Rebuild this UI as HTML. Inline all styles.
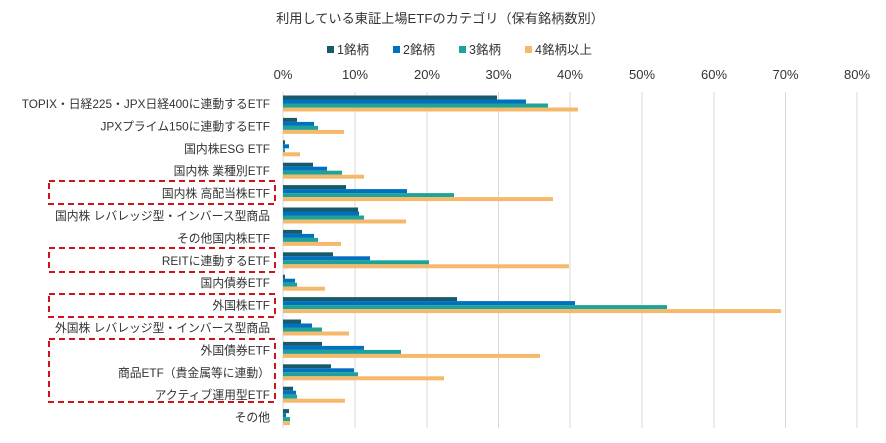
<!DOCTYPE html>
<html><head><meta charset="utf-8"><style>
body{margin:0;background:#fff;}
svg{display:block;font-family:"Liberation Sans","Noto Sans CJK JP",sans-serif;}
</style></head><body>
<svg width="886" height="443" viewBox="0 0 886 443">
<text x="440" y="23" font-size="13.2" text-anchor="middle" fill="#333">利用している東証上場ETFのカテゴリ（保有銘柄数別）</text>
<g font-size="12.5" fill="#333">
<rect x="327" y="46" width="7" height="7" fill="#175a6c"/><text x="337" y="54">1銘柄</text>
<rect x="393" y="46" width="7" height="7" fill="#0070c0"/><text x="403" y="54">2銘柄</text>
<rect x="459" y="46" width="7" height="7" fill="#1ea39a"/><text x="469" y="54">3銘柄</text>
<rect x="525" y="46" width="7" height="7" fill="#f6b86b"/><text x="535" y="54">4銘柄以上</text>
</g>
<g stroke="#d9d9d9" stroke-width="1">
<line x1="283" y1="92" x2="283" y2="428"/><line x1="355" y1="92" x2="355" y2="428"/><line x1="427" y1="92" x2="427" y2="428"/><line x1="498.5" y1="92" x2="498.5" y2="428"/><line x1="570" y1="92" x2="570" y2="428"/><line x1="642" y1="92" x2="642" y2="428"/><line x1="714" y1="92" x2="714" y2="428"/><line x1="785.5" y1="92" x2="785.5" y2="428"/><line x1="857" y1="92" x2="857" y2="428"/>
</g>
<g font-size="13" fill="#333" text-anchor="middle">
<text x="283" y="79">0%</text><text x="355" y="79">10%</text><text x="427" y="79">20%</text><text x="498.5" y="79">30%</text><text x="570" y="79">40%</text><text x="642" y="79">50%</text><text x="714" y="79">60%</text><text x="785.5" y="79">70%</text><text x="857" y="79">80%</text>
</g>
<g id="bars"></g>
<g font-size="11.8" fill="#333" text-anchor="end" id="labels"></g>
<g fill="none" stroke="#d0121b" stroke-width="2" stroke-dasharray="6,4">
<rect x="49" y="181" width="226" height="23"/>
<rect x="49" y="248" width="226" height="24"/>
<rect x="49" y="294" width="226" height="23"/>
<rect x="49" y="339" width="226" height="63"/>
</g>
<script>
var d=[
["TOPIX・日経225・JPX日経400に連動するETF",214,243,265,295],
["JPXプライム150に連動するETF",14,31,35,61],
["国内株ESG ETF",2,6,2,17],
["国内株 業種別ETF",30,44,59,81],
["国内株 高配当株ETF",63,124,171,270],
["国内株 レバレッジ型・インバース型商品",75,76,81,123],
["その他国内株ETF",19,31,35,58],
["REITに連動するETF",50,87,146,286],
["国内債券ETF",2,12,14,42],
["外国株ETF",174,292,384,498],
["外国株 レバレッジ型・インバース型商品",18,29,39,66],
["外国債券ETF",39,81,118,257],
["商品ETF（貴金属等に連動）",48,71,75,161],
["アクティブ運用型ETF",10,13,14,62],
["その他",6,3,7,7]];
var c=["#175a6c","#0070c0","#1ea39a","#f6b86b"],ns="http://www.w3.org/2000/svg";
var B=document.getElementById("bars"),L=document.getElementById("labels");
d.forEach(function(r,i){var top=95.5+i*22.4;
for(var k=0;k<4;k++){var e=document.createElementNS(ns,"rect");e.setAttribute("x",283);e.setAttribute("y",top+k*4);e.setAttribute("width",r[k+1]);e.setAttribute("height",4);e.setAttribute("fill",c[k]);B.appendChild(e);}
var t=document.createElementNS(ns,"text");t.setAttribute("x",270);t.setAttribute("y",top+12.5);t.textContent=r[0];L.appendChild(t);});
</script>
</svg>
</body></html>
